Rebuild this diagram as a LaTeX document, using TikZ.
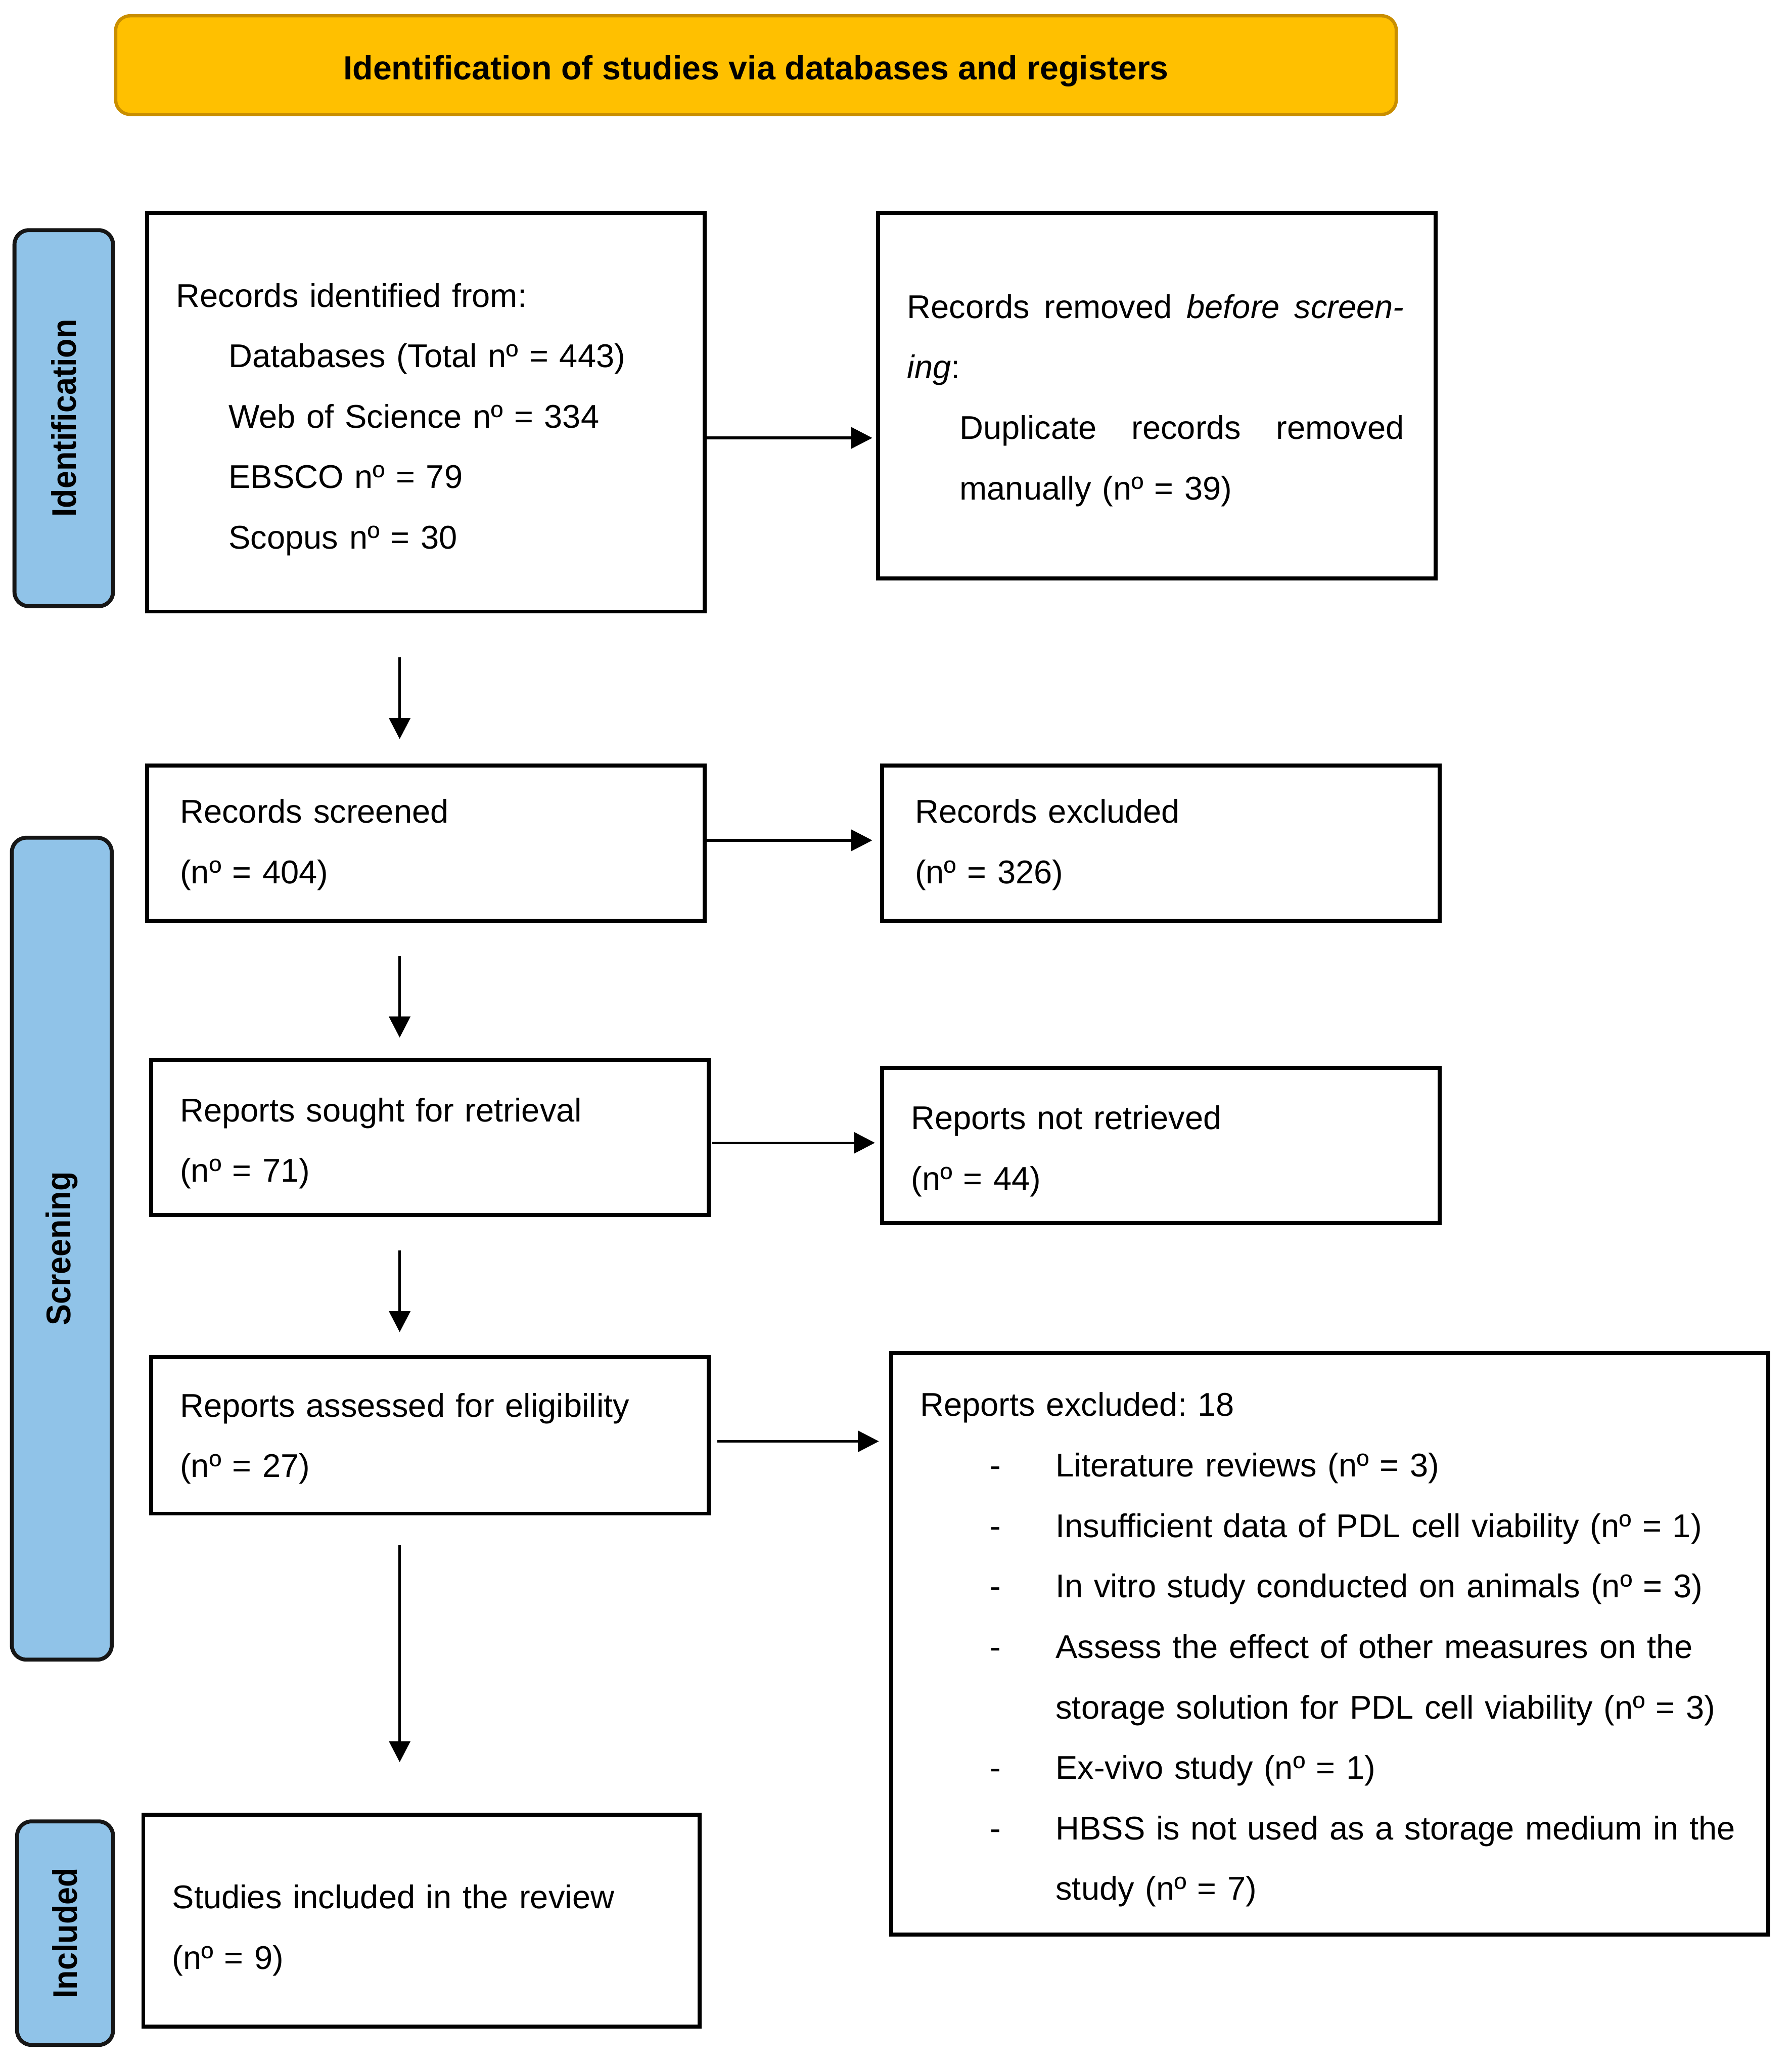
\documentclass[tikz,border=0pt]{standalone}
\usepackage{fontspec}
\setmainfont{Liberation Sans}
\usetikzlibrary{arrows.meta,calc}
\definecolor{bannerfill}{HTML}{FFC000}
\definecolor{bannerline}{HTML}{C98E00}
\definecolor{sidefill}{HTML}{90C3E8}
\definecolor{sideline}{HTML}{161616}
\newcommand\bodyfnt{\fontsize{25pt}{46pt}\selectfont\frenchspacing}
\newcommand\titlefnt{\fontsize{25.5pt}{30pt}\selectfont\bfseries}
\newcommand\sidefnt{\fontsize{26pt}{30pt}\selectfont\bfseries}
\begin{document}
\begin{tikzpicture}[x=1pt,y=-1pt,
  flowbox/.style={draw=black, line width=3pt, rectangle, inner xsep=22pt, inner ysep=0pt,
    align=left, font=\bodyfnt, anchor=center},
  textdrop/.style={execute at begin node={\rule{0pt}{#1}}},
  sidebox/.style={draw=sideline, fill=sidefill, line width=3pt, rounded corners=11pt,
    rectangle, inner sep=0pt, anchor=center},
  sidetext/.style={rotate=90, font=\sidefnt, inner sep=0pt, anchor=center},
  arr/.style={line width=2pt, draw=black, -{Triangle[length=16pt,width=16pt]}}
]
\useasboundingbox (0,0) rectangle (1363,1569.5);

% banner
\node[draw=bannerline, fill=bannerfill, line width=2.5pt, rounded corners=11pt,
  minimum width=974pt, minimum height=75pt, inner sep=0pt] (banner)
  at (575,49.5) {};
\node[font=\titlefnt, inner sep=0pt, anchor=center] (bannertxt)
  at ([yshift=-4.5pt]banner.center) {Identification of studies via databases and registers};

% side labels
\node[sidebox, minimum width=75pt, minimum height=286pt] (sideid) at (48.5,318) {};
\node[sidetext] (sideidtxt) at (sideid.center) {\scalebox{0.93}[1]{Identification}};
\node[sidebox, minimum width=76pt, minimum height=625pt] (sidescr) at (47,949.5) {};
\node[sidetext] (sidescrtxt) at (sidescr.center) {\scalebox{0.93}[1]{Screening}};
\node[sidebox, minimum width=73pt, minimum height=170pt] (sideinc) at (49.5,1470) {};
\node[sidetext] (sideinctxt) at (sideinc.center) {\scalebox{0.93}[1]{Included}};

% boxes
\node[flowbox, textdrop=29pt, minimum width=424pt, minimum height=303pt, text width=380pt] (rid) at (324,313.5)
  {\mbox{Records identified from:}\\
   \hspace*{40pt}\mbox{Databases (Total nº = 443)}\\
   \hspace*{40pt}\mbox{Web of Science nº = 334}\\
   \hspace*{40pt}\mbox{EBSCO nº = 79}\\
   \hspace*{40pt}\mbox{Scopus nº = 30}};

\node[flowbox, textdrop=25pt, minimum width=424pt, minimum height=278pt, text width=380pt] (rrem) at (880,301)
  {\makebox[378pt]{Records\hfill removed\hfill \textit{before}\hfill \textit{screen-}}\\
   \mbox{\textit{ing}:}\\
   \hspace*{40pt}\makebox[338pt]{Duplicate\hfill records\hfill removed}\\
   \hspace*{40pt}\mbox{manually (nº = 39)}};

\node[flowbox, textdrop=21pt, inner xsep=25pt, minimum width=424pt, minimum height=118pt, text width=374pt] (rscr) at (324,641)
  {\mbox{Records screened}\\ \mbox{(nº = 404)}};

\node[flowbox, textdrop=21pt, inner xsep=25pt, minimum width=424pt, minimum height=118pt, text width=374pt] (rexc) at (883,641)
  {\mbox{Records excluded}\\ \mbox{(nº = 326)}};

\node[flowbox, textdrop=27pt, minimum width=424pt, minimum height=118pt, text width=380pt] (rsought) at (327,865)
  {\mbox{Reports sought for retrieval}\\ \mbox{(nº = 71)}};

\node[flowbox, textdrop=27pt, minimum width=424pt, minimum height=118pt, text width=380pt] (rnot) at (883,871)
  {\mbox{Reports not retrieved}\\ \mbox{(nº = 44)}};

\node[flowbox, textdrop=23pt, minimum width=424pt, minimum height=119pt, text width=380pt] (rass) at (327,1091.5)
  {\mbox{Reports assessed for eligibility}\\ \mbox{(nº = 27)}};

\node[flowbox, textdrop=27pt, minimum width=667pt, minimum height=442pt, text width=623pt] (rex) at (1011.5,1250)
  {\mbox{Reports excluded: 18}\\
   \hspace*{53pt}\makebox[50pt][l]{-}\mbox{Literature reviews (nº = 3)}\\
   \hspace*{53pt}\makebox[50pt][l]{-}\mbox{Insufficient data of PDL cell viability (nº = 1)}\\
   \hspace*{53pt}\makebox[50pt][l]{-}\mbox{In vitro study conducted on animals (nº = 3)}\\
   \hspace*{53pt}\makebox[50pt][l]{-}\mbox{Assess the effect of other measures on the}\\
   \hspace*{103pt}\mbox{storage solution for PDL cell viability (nº = 3)}\\
   \hspace*{53pt}\makebox[50pt][l]{-}\mbox{Ex-vivo study (nº = 1)}\\
   \hspace*{53pt}\makebox[50pt][l]{-}\mbox{HBSS is not used as a storage medium in the}\\
   \hspace*{103pt}\mbox{study (nº = 7)}};

\node[flowbox, textdrop=33pt, minimum width=423pt, minimum height=161pt, text width=379pt] (rinc) at (320.5,1460.5)
  {\mbox{Studies included in the review}\\ \mbox{(nº = 9)}};

% horizontal arrows
\draw[arr] (rid.east |- 0,333) -- ([xshift=-3pt]rrem.west |- 0,333);
\draw[arr] (rscr.east |- 0,639) -- ([xshift=-6pt]rexc.west |- 0,639);
\draw[arr] ([xshift=1pt]rsought.east |- 0,869) -- ([xshift=-4pt]rnot.west |- 0,869);
\draw[arr] ([xshift=5pt]rass.east |- 0,1096) -- ([xshift=-8pt]rex.west |- 0,1096);

% vertical arrows
\coordinate (d1s) at (304,500); \coordinate (d1e) at (304,562);
\coordinate (d2s) at (304,727); \coordinate (d2e) at (304,789);
\coordinate (d3s) at (304,951); \coordinate (d3e) at (304,1013);
\coordinate (d4s) at (304,1175); \coordinate (d4e) at (304,1340);
\draw[arr] (d1s) -- (d1e);
\draw[arr] (d2s) -- (d2e);
\draw[arr] (d3s) -- (d3e);
\draw[arr] (d4s) -- (d4e);
\end{tikzpicture}
\end{document}
